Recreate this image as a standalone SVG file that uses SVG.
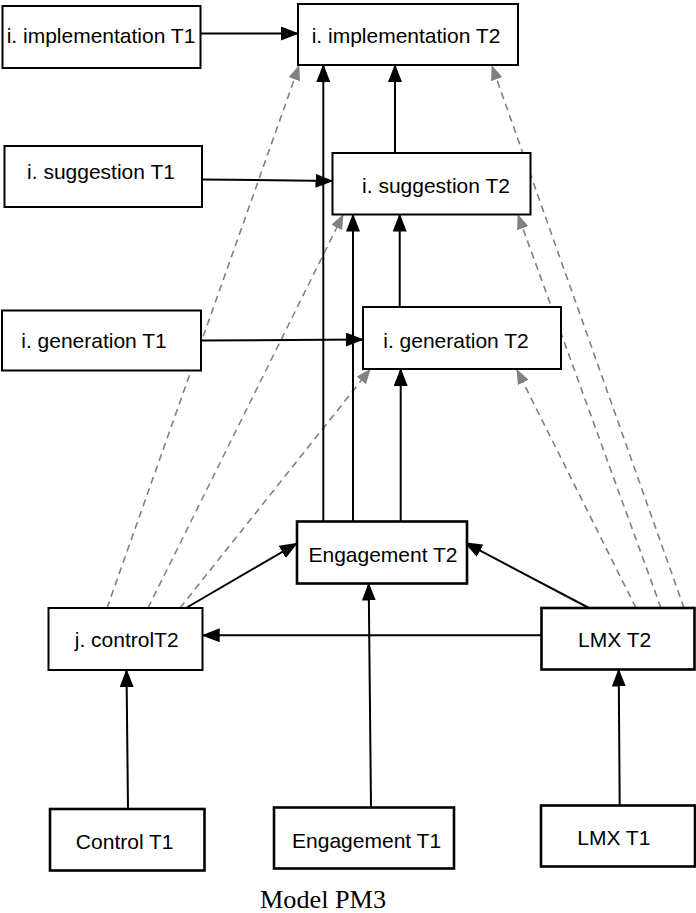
<svg xmlns="http://www.w3.org/2000/svg" width="696" height="913" viewBox="0 0 696 913">
<style>
  .box { fill: #ffffff; stroke: #000000; stroke-width: 2; }
  .thick { stroke-width: 2.6; }
  .lbl { font-family: "Liberation Sans", Arial, sans-serif; font-size: 21px; fill: #000000; text-anchor: middle; }
  .cap { font-family: "Liberation Serif", "Times New Roman", serif; font-size: 25px; fill: #000000; }
  .solid { fill: none; stroke: #000000; stroke-width: 2; marker-end: url(#ahBlack); }
  .dash { fill: none; stroke: #808080; stroke-width: 1.6; stroke-dasharray: 7 5; marker-end: url(#ahGrey); }
</style>
<defs>
  <marker id="ahBlack" markerUnits="userSpaceOnUse" markerWidth="18" markerHeight="14" refX="17" refY="7" orient="auto">
    <path d="M0,0 L18,7 L0,14 z" fill="#000000" stroke="none"/>
  </marker>
  <marker id="ahGrey" markerUnits="userSpaceOnUse" markerWidth="15" markerHeight="12" refX="14" refY="6" orient="auto">
    <path d="M0,0 L15,6 L0,12 z" fill="#808080" stroke="none"/>
  </marker>
</defs>
<rect width="696" height="913" fill="#ffffff"/>

<g id="connectors">
  <!-- grey dashed -->
  <path class="dash" d="M107,608 L299,66"/>
  <path class="dash" d="M148,608 L343,215"/>
  <path class="dash" d="M180,608 L370,369.5"/>
  <path class="dash" d="M684,608 L492,66"/>
  <path class="dash" d="M661,608 L518,215"/>
  <path class="dash" d="M636,608 L517,370"/>
  <!-- solid -->
  <path class="solid" d="M200.5,33.5 L298,33.5"/>
  <path class="solid" d="M202,179.5 L332.5,181"/>
  <path class="solid" d="M201,340.5 L363,339.5"/>
  <path class="solid" d="M323.3,521.5 L323.3,65"/>
  <path class="solid" d="M353,521.5 L353,214.5"/>
  <path class="solid" d="M400.7,521.5 L400.7,369"/>
  <path class="solid" d="M399.7,307 L399.7,214.5"/>
  <path class="solid" d="M395,153 L395,65"/>
  <path class="solid" d="M186,608 L297,543.3"/>
  <path class="solid" d="M589,608 L465,542.7"/>
  <path class="solid" d="M541.5,635.3 L202.7,635.3"/>
  <path class="solid" d="M128,809 L126.5,670"/>
  <path class="solid" d="M371,807.5 L368.7,583.5"/>
  <path class="solid" d="M619.7,805.5 L618.7,669.5"/>
</g>

<g id="impl-T1">
  <rect class="box" x="2.5" y="6" width="198" height="62"/>
  <text class="lbl" x="101" y="43">i. implementation T1</text>
</g>
<g id="impl-T2">
  <rect class="box" x="298" y="4" width="220" height="61"/>
  <text class="lbl" x="406" y="43">i. implementation T2</text>
</g>
<g id="sugg-T1">
  <rect class="box" x="4.5" y="146" width="197.5" height="61"/>
  <text class="lbl" x="101" y="179">i. suggestion T1</text>
</g>
<g id="sugg-T2">
  <rect class="box" x="332.5" y="153" width="198" height="61.5"/>
  <text class="lbl" x="436" y="193.3">i. suggestion T2</text>
</g>
<g id="gen-T1">
  <rect class="box" x="2" y="310.5" width="199" height="60"/>
  <text class="lbl" x="94" y="348.3">i. generation T1</text>
</g>
<g id="gen-T2">
  <rect class="box" x="363" y="307" width="198" height="62"/>
  <text class="lbl" x="456" y="348.3">i. generation T2</text>
</g>
<g id="eng-T2">
  <rect class="box thick" x="297" y="521.5" width="170" height="62"/>
  <text class="lbl" x="383" y="561.7">Engagement T2</text>
</g>
<g id="control-T2">
  <rect class="box" x="48.5" y="608" width="154" height="62"/>
  <text class="lbl" x="126.7" y="646.7">j. controlT2</text>
</g>
<g id="lmx-T2">
  <rect class="box thick" x="541.5" y="608" width="153" height="61.5"/>
  <text class="lbl" x="614.7" y="646.7">LMX T2</text>
</g>
<g id="control-T1">
  <rect class="box thick" x="50" y="809" width="154.5" height="61.5"/>
  <text class="lbl" x="124.7" y="849">Control T1</text>
</g>
<g id="eng-T1">
  <rect class="box thick" x="274" y="807.5" width="180" height="61"/>
  <text class="lbl" x="366.6" y="848.3">Engagement T1</text>
</g>
<g id="lmx-T1">
  <rect class="box thick" x="541" y="805.5" width="154" height="61"/>
  <text class="lbl" x="613.8" y="845">LMX T1</text>
</g>

<text class="cap" x="260" y="908" textLength="126" lengthAdjust="spacingAndGlyphs">Model PM3</text>
</svg>
